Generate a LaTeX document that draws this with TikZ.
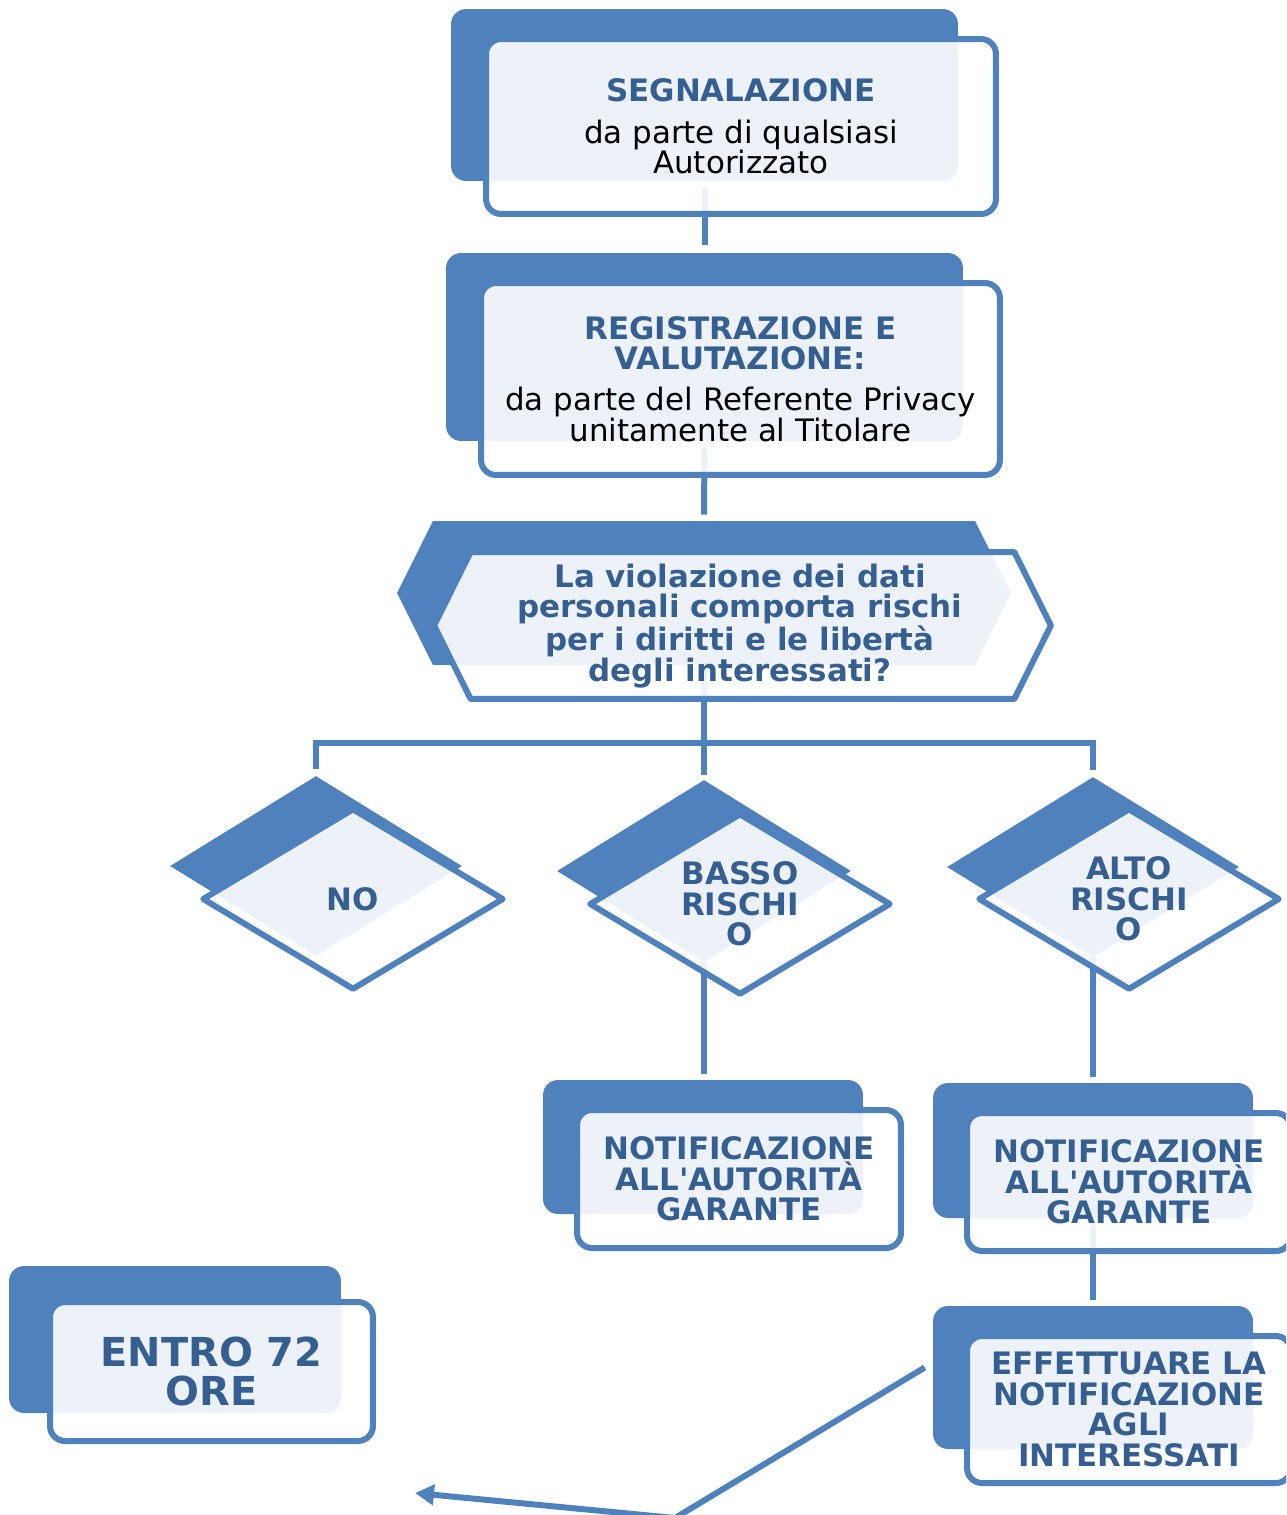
\documentclass[tikz,border=0pt]{standalone}
\usepackage{fontspec}
\setmainfont{DejaVu Sans}[Ligatures=TeXOff]
\usetikzlibrary{shapes.geometric,shapes.symbols,arrows.meta}
\definecolor{smblue}{HTML}{4F81BD}
\definecolor{smtext}{HTML}{365F91}
\newcommand{\bodyline}[1]{{\color{black}\mdseries #1}}

\begin{document}
\begin{tikzpicture}[x=0.02cm,y=-0.02cm,
   back/.style={rectangle,rounded corners=0.3cm,fill=smblue,inner sep=0},
   front/.style={rectangle,rounded corners=0.3cm,draw=smblue,line width=0.12cm,fill=white,fill opacity=0.9,text opacity=1,inner sep=0,align=center,text=smtext,font=\fontsize{17.6}{17.4}\selectfont\bfseries},
   backdia/.style={diamond,fill=smblue,inner sep=0},
   frontdia/.style={diamond,draw=smblue,line width=0.12cm,line join=round,fill=white,fill opacity=0.9,inner sep=0},
   backhex/.style={signal,signal to=east and west,signal pointer angle=127,fill=smblue,inner sep=0},
   fronthex/.style={signal,signal to=east and west,signal pointer angle=127,draw=smblue,line width=0.12cm,line join=round,fill=white,fill opacity=0.9,inner sep=0},
   lbl/.style={align=center,text=smtext,font=\fontsize{17.6}{17.4}\selectfont\bfseries},
   link/.style={draw=smblue,line width=0.12cm}]
  \useasboundingbox (0,0) rectangle (1286,1515);
  \clip (0,0) rectangle (1286,1515);

  \node[back,minimum width=10.14cm,minimum height=3.44cm] (segb) at (704.5,95) {};
  \node[back,minimum width=10.34cm,minimum height=3.76cm] (regb) at (704.5,347) {};
  \node[backhex,minimum width=12.28cm,minimum height=2.88cm] (hexb) at (704,593) {};
  \node[backdia,minimum width=5.84cm,minimum height=3.6cm] (nob) at (316,866) {};
  \node[backdia,minimum width=5.88cm,minimum height=3.64cm] (bassob) at (704,871) {};
  \node[backdia,minimum width=5.84cm,minimum height=3.6cm] (altob) at (1093,867) {};
  \node[back,minimum width=6.4cm,minimum height=2.68cm] (notab) at (703,1147) {};
  \node[back,minimum width=6.4cm,minimum height=2.7cm] (notbb) at (1093,1150.5) {};
  \node[back,minimum width=6.4cm,minimum height=2.86cm] (effb) at (1093,1377.5) {};
  \node[back,minimum width=6.64cm,minimum height=2.94cm] (entrob) at (175,1339.5) {};

  \coordinate (split) at (704,743);
  \coordinate (bend) at (675,1518);
  \coordinate (tip) at (415,1493);
  \draw[link,shorten <=0.12cm,shorten >=0.16cm] (segb.south) -- (regb.north);
  \draw[link,shorten <=0.12cm,shorten >=0.12cm] (regb.south) -- (hexb.north);
  \draw[link] (hexb.south) -- (split);
  \draw[link,shorten >=0.14cm] (split) -| (nob.north);
  \draw[link,shorten >=0.1cm] (split) -- (bassob.north);
  \draw[link,shorten >=0.14cm] (split) -| (altob.north);
  \draw[link,shorten >=0.12cm] (bassob.south) -- (bassob.south |- notab.north);
  \draw[link,shorten >=0.12cm] (altob.south) -- (notbb.north);
  \draw[link,shorten <=0.14cm,shorten >=0.12cm] (notbb.south) -- (effb.north);
  \draw[link,-{Triangle[length=0.38cm,width=0.4cm]}] ([shift={(-8,-10)}]effb.west) -- (bend) -- (tip);

  \node[front,minimum width=10.2cm,minimum height=3.5cm] (segf) at (741,126.5) {SEGNALAZIONE\\[6pt]\bodyline{da parte di qualsiasi}\\\bodyline{Autorizzato}};
  \node[front,minimum width=10.38cm,minimum height=3.84cm] (regf) at (740.5,379) {REGISTRAZIONE E\\VALUTAZIONE:\\[6pt]\bodyline{da parte del Referente Privacy}\\\bodyline{unitamente al Titolare}};
  \node[fronthex,minimum width=12.34cm,minimum height=2.94cm] (hexf) at (742.5,625.5) {};
  \node[lbl] (hexlbl) at (740,626) {La violazione dei dati\\personali comporta rischi\\per i diritti e le libertà\\degli interessati?};
  \node[frontdia,minimum width=6.04cm,minimum height=3.64cm] (nof) at (353,899) {};
  \node[lbl] (nolbl) at (nof) {NO};
  \node[frontdia,minimum width=6.04cm,minimum height=3.64cm] (bassof) at (740,904) {};
  \node[lbl] (bassolbl) at (bassof) {BASSO\\RISCHI\\O};
  \node[frontdia,minimum width=6.04cm,minimum height=3.64cm] (altof) at (1129,899) {};
  \node[lbl] (altolbl) at (altof) {ALTO\\RISCHI\\O};
  \node[front,minimum width=6.48cm,minimum height=2.76cm] (notaf) at (739,1179) {NOTIFICAZIONE\\ALL'AUTORITÀ\\GARANTE};
  \node[front,minimum width=6.48cm,minimum height=2.76cm] (notbf) at (1129,1182) {NOTIFICAZIONE\\ALL'AUTORITÀ\\GARANTE};
  \node[front,minimum width=6.48cm,minimum height=2.94cm] (efff) at (1129,1409.5) {EFFETTUARE LA\\NOTIFICAZIONE\\AGLI\\INTERESSATI};
  \node[front,minimum width=6.46cm,minimum height=2.78cm,font=\fontsize{22.7}{21.8}\selectfont\bfseries] (entrof) at (211.5,1371.5) {ENTRO 72\\ORE};
\end{tikzpicture}
\end{document}
